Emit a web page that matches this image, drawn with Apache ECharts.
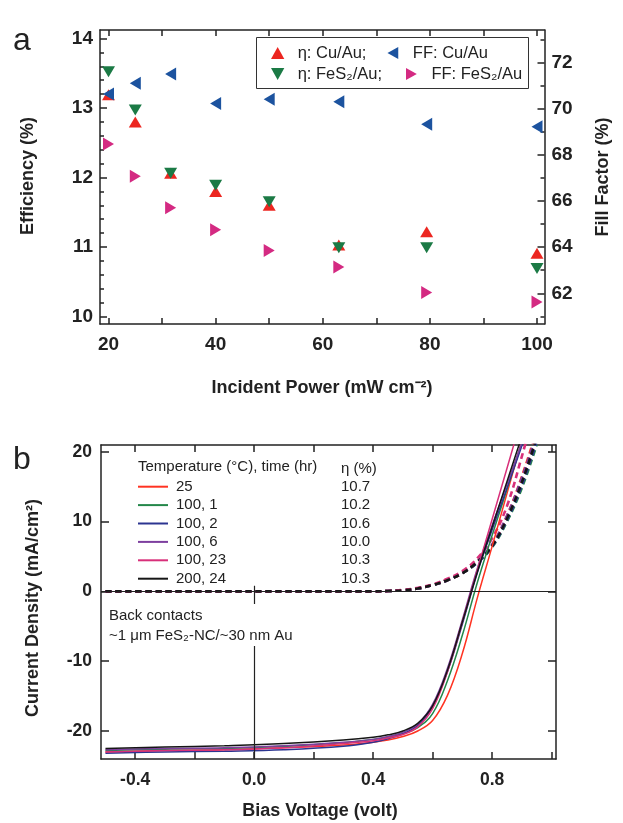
<!DOCTYPE html>
<html>
<head>
<meta charset="utf-8">
<script src="https://cdn.jsdelivr.net/npm/echarts@6/dist/echarts.min.js"></script>
<style>html,body{margin:0;background:#fff}#main{width:623px;height:823px}</style>
</head>
<body>
<div id="main"></div>
<script>
// panel a: efficiency and fill factor vs incident power
var power = [20, 25, 31.6, 40, 50, 63, 79.4, 100];
var effCuAu = [13.19, 12.80, 12.06, 11.80, 11.60, 11.03, 11.22, 10.91];
var effFeS2 = [13.52, 12.97, 12.06, 11.89, 11.65, 10.99, 10.99, 10.69];
var ffCuAu = [70.64, 71.11, 71.51, 70.23, 70.42, 70.31, 69.33, 69.22];
var ffFeS2 = [68.47, 67.08, 65.71, 64.76, 63.86, 63.14, 62.03, 61.62];

var powerTicks = [20, 30, 40, 50, 60, 70, 80, 90, 100];
var powerLabels = [20, 40, 60, 80, 100];
var effTicks = [10, 11, 12, 13, 14];
var effMinor = [10.2, 10.4, 10.6, 10.8, 11.2, 11.4, 11.6, 11.8, 12.2, 12.4, 12.6, 12.8, 13.2, 13.4, 13.6, 13.8];
var ffTicks = [62, 64, 66, 68, 70, 72];
var ffMinor = [61, 63, 65, 67, 69, 71, 73];

// panel b: J-V curves (light = solid, dark = dashed)
var voltage = [-0.5, -0.3, -0.1, 0.1, 0.3, 0.4, 0.45, 0.5, 0.55, 0.6, 0.65, 0.7, 0.75, 0.8, 0.85, 0.9, 0.95];
var j25     = [-23.0, -22.8, -22.7, -22.4, -22.0, -21.6, -21.3, -20.8, -20.0, -18.5, -14.9, -8.9, -1.0, 6.4, 14.0, 21.5, 29];
var j100_1  = [-22.8, -22.6, -22.5, -22.2, -21.7, -21.2, -20.9, -20.4, -19.5, -17.5, -12.8, -6.3, 1.2, 8.0, 14.6, 21.3, 28];
var j100_2  = [-23.2, -23.0, -22.9, -22.7, -22.2, -21.6, -21.1, -20.4, -19.2, -16.5, -11.5, -4.7, 2.6, 8.8, 14.8, 20.8, 27];
var j100_6  = [-22.7, -22.5, -22.4, -22.1, -21.6, -21.2, -20.8, -20.2, -19.0, -16.2, -11.0, -4.1, 3.2, 9.4, 15.3, 21.3, 27.5];
var j100_23 = [-23.0, -22.8, -22.7, -22.4, -21.8, -21.4, -21.0, -20.5, -19.4, -16.8, -11.5, -4.4, 3.0, 10.3, 17.6, 24.9, 32];
var j200_24 = [-22.5, -22.3, -22.1, -21.8, -21.3, -20.9, -20.55, -20.0, -18.9, -16.4, -11.3, -4.4, 2.7, 9.2, 15.7, 22.2, 28.7];
var d25     = [0, 0, 0, 0, 0, 0, 0.05, 0.15, 0.4, 0.9, 1.6, 2.6, 4.2, 6.6, 10.8, 16.4, 23];
var d100_1  = [0, 0, 0, 0, 0, 0, 0.05, 0.15, 0.4, 0.9, 1.6, 2.6, 4.1, 6.3, 10.0, 14.8, 21.0];
var d100_2  = [0, 0, 0, 0, 0, 0, 0.05, 0.15, 0.4, 0.9, 1.6, 2.6, 4.1, 6.4, 10.2, 15.2, 21.5];
var d100_6  = [0, 0, 0, 0, 0, 0, 0.05, 0.15, 0.4, 0.9, 1.6, 2.7, 4.3, 6.7, 10.8, 16.2, 22.5];
var d100_23 = [0, 0, 0, 0, 0, 0, 0.05, 0.2, 0.5, 1.0, 1.8, 2.9, 4.7, 7.6, 12.2, 19.3, 27];
var d200_24 = [0, 0, 0, 0, 0, 0, 0.05, 0.15, 0.4, 0.9, 1.6, 2.6, 4.2, 6.5, 10.4, 15.6, 22];

var sampleNames = ['25', '100, 1', '100, 2', '100, 6', '100, 23', '200, 24'];
var etaValues = ['10.7', '10.2', '10.6', '10.0', '10.3', '10.3'];
var voltTicks = [-0.4, -0.2, 0, 0.2, 0.4, 0.6, 0.8, 1.0];
var voltLabels = [-0.4, 0, 0.4, 0.8];
var jTicks = [-20, -10, 0, 10, 20];

var lightCurves = [j25, j100_1, j100_2, j100_6, j100_23, j200_24];
var darkCurves = [d25, d100_1, d100_2, d100_6, d100_23, d200_24];
var lineColors = ['#ff3322', '#24874a', '#2c3591', '#7d3f9f', '#d8307a', '#161616'];

var FONT = '"Liberation Sans", Arial, sans-serif';

var chart = echarts.init(document.getElementById('main'));

function pairs(xs, ys) {
    return xs.map(function (x, i) { return [x, ys[i]]; });
}

// boxed axes: ticks inside, optional labels at chosen values
function frameAxis(opt) {
    return {
        type: 'value',
        gridIndex: opt.grid,
        position: opt.position,
        min: opt.min,
        max: opt.max,
        splitLine: {show: false},
        axisLine: {show: opt.line !== false, onZero: false, lineStyle: {color: '#222', width: 1.5}},
        axisTick: {show: true, inside: true, length: opt.len || 7, lineStyle: {color: '#222', width: 1.5}, customValues: opt.ticks},
        axisLabel: {show: !!opt.labels, customValues: opt.labels, margin: opt.margin || 8,
            fontFamily: FONT, fontWeight: 'bold', fontSize: opt.fs || 19, color: '#222',
            formatter: opt.fmt}
    };
}

var upTri = 'path://M5,0L10,9L0,9Z';
var downTri = 'path://M0,0L10,0L5,9Z';
var leftTri = 'path://M9,0L9,10L0,5Z';
var rightTri = 'path://M0,0L9,5L0,10Z';

var series = [
    {name: 'η: Cu/Au;', type: 'scatter', xAxisIndex: 0, yAxisIndex: 0, symbol: upTri, symbolSize: [13, 11],
        itemStyle: {color: '#ec2620', opacity: 1}, data: pairs(power, effCuAu)},
    {name: 'η: FeS₂/Au;', type: 'scatter', xAxisIndex: 0, yAxisIndex: 0, symbol: downTri, symbolSize: [13, 11],
        itemStyle: {color: '#1b7a45', opacity: 1}, data: pairs(power, effFeS2)},
    {name: 'FF: Cu/Au', type: 'scatter', xAxisIndex: 0, yAxisIndex: 2, symbol: leftTri, symbolSize: [11, 13],
        itemStyle: {color: '#1c539f', opacity: 1}, data: pairs(power, ffCuAu)},
    {name: 'FF: FeS₂/Au', type: 'scatter', xAxisIndex: 0, yAxisIndex: 2, symbol: rightTri, symbolSize: [11, 13],
        itemStyle: {color: '#d42a82', opacity: 1}, data: pairs(power, ffFeS2)}
];

darkCurves.forEach(function (c, i) {
    series.push({
        name: sampleNames[i] + ' dark', type: 'line', xAxisIndex: 2, yAxisIndex: 4,
        showSymbol: false, symbol: 'none', smooth: 0.4,
        lineStyle: {color: lineColors[i], width: 2.6, type: [6, 4]},
        itemStyle: {color: lineColors[i]},
        data: pairs(voltage, c)
    });
});
lightCurves.forEach(function (c, i) {
    series.push({
        name: sampleNames[i], type: 'line', xAxisIndex: 2, yAxisIndex: 4,
        showSymbol: false, symbol: 'none', smooth: 0.4,
        lineStyle: {color: lineColors[i], width: 1.5},
        itemStyle: {color: lineColors[i]},
        data: pairs(voltage, c)
    });
});
// zero lines of panel b
series[4].markLine = {
    silent: true, symbol: ['none', 'none'], label: {show: false}, animation: false,
    lineStyle: {color: '#222', width: 1.2, type: 'solid'},
    data: [
        {yAxis: 0},
        [{coord: [0, 0.8]}, {coord: [0, -24.01]}]
    ]
};

var graphics = [
    {type: 'text', x: 13, y: 25, style: {text: 'a', font: '32px ' + FONT, fill: '#222', textVerticalAlign: 'alphabetic'}},
    {type: 'text', x: 13, y: 444, style: {text: 'b', font: '32px ' + FONT, fill: '#222', textVerticalAlign: 'alphabetic'}},
    {type: 'text', x: 28, y: 176, rotation: Math.PI / 2, style: {text: 'Efficiency (%)', font: 'bold 18px ' + FONT, fill: '#222', textAlign: 'center', textVerticalAlign: 'middle'}},
    {type: 'text', x: 603, y: 177, rotation: Math.PI / 2, style: {text: 'Fill Factor (%)', font: 'bold 18px ' + FONT, fill: '#222', textAlign: 'center', textVerticalAlign: 'middle'}},
    {type: 'text', x: 322, y: 388, style: {text: 'Incident Power (mW cm⁻²)', font: 'bold 18px ' + FONT, fill: '#222', textAlign: 'center', textVerticalAlign: 'middle'}},
    {type: 'text', x: 33, y: 608, rotation: Math.PI / 2, style: {text: 'Current Density (mA/cm²)', font: 'bold 18px ' + FONT, fill: '#222', textAlign: 'center', textVerticalAlign: 'middle'}},
    {type: 'text', x: 320, y: 811, style: {text: 'Bias Voltage (volt)', font: 'bold 18px ' + FONT, fill: '#222', textAlign: 'center', textVerticalAlign: 'middle'}},
    // frame of the panel a legend
    {type: 'rect', z: 40, shape: {x: 256.5, y: 37.5, width: 272, height: 51}, style: {fill: '#fff', stroke: '#333', lineWidth: 1}},
    {type: 'text', x: 138, y: 467, style: {text: 'Temperature (°C), time (hr)', font: '15px ' + FONT, fill: '#222', textVerticalAlign: 'middle'}},
    {type: 'text', x: 341, y: 469, style: {text: 'η (%)', font: '15px ' + FONT, fill: '#222', textVerticalAlign: 'middle'}},
    {type: 'rect', z: 50, shape: {x: 106, y: 604, width: 200, height: 42}, style: {fill: '#fff'}},
    {type: 'text', z: 51, x: 109, y: 616, style: {text: 'Back contacts', font: '15px ' + FONT, fill: '#222', textVerticalAlign: 'middle'}},
    {type: 'text', z: 51, x: 109, y: 636, style: {text: '~1 μm FeS₂-NC/~30 nm Au', font: '15px ' + FONT, fill: '#222', textVerticalAlign: 'middle'}}
];
etaValues.forEach(function (v, i) {
    graphics.push({type: 'text', x: 341, y: 486.7 + i * 18.4, style: {text: v, font: '15px ' + FONT, fill: '#222', textVerticalAlign: 'middle'}});
});

function markerLegend(names, top, gap) {
    return {
        data: names, left: 271, top: top, orient: 'horizontal', z: 60,
        padding: 0, itemGap: gap, itemWidth: 14, itemHeight: 12,
        textStyle: {fontFamily: FONT, fontSize: 16.5, color: '#222', lineHeight: 18, padding: [0, 0, 0, 8]}
    };
}

var option = {
    animation: false,
    backgroundColor: '#fff',
    grid: [
        {left: 100, top: 30, right: 78.5, bottom: 499},
        {left: 101, top: 445, right: 67, bottom: 64}
    ],
    legend: [
        markerLegend(['η: Cu/Au;', 'FF: Cu/Au'], 44, 21),
        markerLegend(['η: FeS₂/Au;', 'FF: FeS₂/Au'], 65, 24),
        {
            data: sampleNames,
            left: 138, top: 477.5, orient: 'vertical',
            padding: 0, itemGap: 0, itemWidth: 30, itemHeight: 2, icon: 'rect',
            textStyle: {fontFamily: FONT, fontSize: 15, color: '#222', lineHeight: 18.4, padding: [0, 0, 0, 3]}
        }
    ],
    xAxis: [
        frameAxis({grid: 0, position: 'bottom', min: 18.41, max: 101.4, ticks: powerTicks, labels: powerLabels, margin: 11, len: 6}),
        frameAxis({grid: 0, position: 'top', min: 18.41, max: 101.4, ticks: powerTicks, len: 6}),
        frameAxis({grid: 1, position: 'bottom', min: -0.515, max: 1.015, ticks: voltTicks, labels: voltLabels, margin: 12, fs: 17.5,
            fmt: function (v) { return v.toFixed(1); }}),
        frameAxis({grid: 1, position: 'top', min: -0.515, max: 1.015, ticks: voltTicks})
    ],
    yAxis: [
        frameAxis({grid: 0, position: 'left', min: 9.892, max: 14.122, ticks: effTicks, labels: effTicks, margin: 7}),
        frameAxis({grid: 0, position: 'left', min: 9.892, max: 14.122, ticks: effMinor, len: 4, line: false}),
        frameAxis({grid: 0, position: 'right', min: 60.669, max: 73.418, ticks: ffTicks, labels: ffTicks, margin: 7}),
        frameAxis({grid: 0, position: 'right', min: 60.669, max: 73.418, ticks: ffMinor, len: 4, line: false}),
        frameAxis({grid: 1, position: 'left', min: -24.01, max: 20.96, ticks: jTicks, labels: jTicks, margin: 9, fs: 17.5, len: 8}),
        frameAxis({grid: 1, position: 'right', min: -24.01, max: 20.96, ticks: jTicks, len: 8})
    ],
    series: series,
    graphic: graphics
};

chart.setOption(option);
</script>
</body>
</html>
